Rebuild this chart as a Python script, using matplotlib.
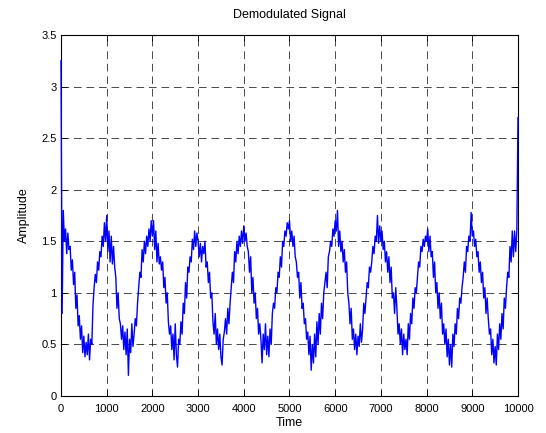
import numpy as np
import matplotlib
matplotlib.use('Agg')
import matplotlib.pyplot as plt

# demodulated signal, every 25 samples
step = 25
amplitude = [
    3.25, 0.8, 1.8, 1.5, 1.62, 1.38, 1.58, 1.42,
    1.45, 1.22, 1.32, 1.08, 1.2, 0.85, 0.98, 0.68,
    0.78, 0.55, 0.68, 0.42, 0.58, 0.38, 0.52, 0.4,
    0.6, 0.35, 0.55, 0.5, 0.88, 1.05, 1.18, 1.1,
    1.3, 1.22, 1.4, 1.35, 1.55, 1.45, 1.68, 1.5,
    1.75, 1.4, 1.6, 1.3, 1.55, 1.28, 1.45, 1.25,
    1.15, 0.85, 1.0, 0.75, 0.7, 0.55, 0.68, 0.45,
    0.62, 0.4, 0.65, 0.2, 0.55, 0.42, 0.7, 0.48,
    0.6, 0.75, 0.68, 0.9, 1.05, 1.2, 1.15, 1.42,
    1.3, 1.5, 1.38, 1.55, 1.45, 1.62, 1.5, 1.7,
    1.55, 1.7, 1.42, 1.6, 1.3, 1.48, 1.28, 1.35,
    1.22, 1.3, 1.05, 1.15, 0.9, 1.0, 0.72, 0.6,
    0.68, 0.45, 0.6, 0.35, 0.7, 0.4, 0.28, 0.55,
    0.5, 0.72, 0.6, 0.9, 0.8, 1.1, 0.95, 1.25,
    1.2, 1.35, 1.3, 1.52, 1.42, 1.6, 1.45, 1.58,
    1.5, 1.35, 1.48, 1.3, 1.45, 1.38, 1.5, 1.25,
    1.3, 1.1, 1.2, 0.95, 1.0, 0.72, 0.6, 0.8,
    0.5, 0.65, 0.45, 0.6, 0.38, 0.3, 0.55, 0.62,
    0.75, 0.6, 0.85, 0.7, 0.9, 1.05, 1.2, 1.1,
    1.4, 1.3, 1.5, 1.38, 1.55, 1.45, 1.6, 1.48,
    1.65, 1.5, 1.58, 1.45, 1.4, 1.2, 1.35, 1.0,
    1.15, 0.9, 1.0, 0.75, 0.85, 0.6, 0.7, 0.55,
    0.32, 0.6, 0.45, 0.7, 0.4, 0.58, 0.38, 0.65,
    0.5, 0.8, 0.9, 0.85, 1.05, 1.0, 1.2, 1.15,
    1.35, 1.25, 1.5, 1.45, 1.6, 1.55, 1.68, 1.62,
    1.7, 1.5, 1.6, 1.45, 1.55, 1.35, 1.3, 1.15,
    1.2, 0.95, 1.1, 0.85, 0.9, 0.7, 0.75, 0.55,
    0.62, 0.4, 0.58, 0.25, 0.5, 0.32, 0.6, 0.38,
    0.72, 0.5, 0.8, 0.6, 0.9, 0.75, 1.0, 1.1,
    1.2, 1.05, 1.35, 1.4, 1.5, 1.45, 1.62, 1.55,
    1.7, 1.6, 1.8, 1.45, 1.6, 1.4, 1.5, 1.3,
    1.42, 1.2, 1.3, 1.0, 0.9, 0.7, 0.85, 0.55,
    0.65, 0.45, 0.6, 0.4, 0.58, 0.48, 0.7, 0.52,
    0.65, 0.9, 0.8, 0.95, 1.1, 1.05, 1.25, 1.2,
    1.3, 1.45, 1.38, 1.55, 1.5, 1.75, 1.48, 1.65,
    1.5, 1.6, 1.42, 1.5, 1.3, 1.4, 1.2, 1.35,
    1.1, 1.25, 0.95, 1.0, 0.8, 1.05, 0.85, 0.6,
    0.7, 0.5, 0.65, 0.4, 0.6, 0.45, 0.55, 0.4,
    0.7, 0.55, 0.8, 0.7, 0.95, 0.85, 1.05, 1.0,
    1.15, 1.3, 1.25, 1.45, 1.4, 1.52, 1.45, 1.55,
    1.5, 1.62, 1.4, 1.55, 1.35, 1.4, 1.15, 1.3,
    1.0, 1.1, 0.85, 1.0, 0.75, 0.9, 0.6, 0.7,
    0.5, 0.65, 0.38, 0.55, 0.3, 0.5, 0.28, 0.6,
    0.48, 0.7, 0.6, 0.85, 0.75, 0.95, 0.9, 1.05,
    1.15, 1.3, 1.2, 1.45, 1.4, 1.55, 1.5, 1.78,
    1.55, 1.6, 1.45, 1.52, 1.35, 1.4, 1.2, 1.3,
    1.1, 1.2, 0.95, 1.05, 0.8, 0.95, 0.75, 0.6,
    0.65, 0.4, 0.55, 0.32, 0.48, 0.3, 0.6, 0.45,
    0.7, 0.55, 0.8, 0.65, 0.95, 0.85, 1.05, 1.2,
    1.15, 1.45, 1.3, 1.6, 1.35, 1.6, 1.4, 1.6,
    2.7,
]
time = np.arange(len(amplitude)) * step

x_ticks = [0, 1000, 2000, 3000, 4000, 5000, 6000, 7000, 8000, 9000, 10000]
y_ticks = [0, 0.5, 1, 1.5, 2, 2.5, 3, 3.5]

plt.rcParams['font.family'] = ['Liberation Sans', 'DejaVu Sans']
plt.rcParams['font.size'] = 8
plt.rcParams['lines.scale_dashes'] = False

fig = plt.figure(figsize=(5.46, 4.33), dpi=100)
ax = fig.add_axes([0.1117, 0.0855, 0.837, 0.8335])
ax.plot(time, amplitude, color='#0000ff', lw=1.0, zorder=3, clip_on=False)

ax.set_xlim(0, 10000)
ax.set_ylim(0, 3.5)
ax.set_xticks(x_ticks)
ax.set_yticks(y_ticks)
ax.set_xticklabels([str(v) for v in x_ticks])
ax.set_yticklabels(['0', '0.5', '1', '1.5', '2', '2.5', '3', '3.5'])
ax.tick_params(direction='in', length=4, width=0.6, top=True, right=True, colors='k')
ax.tick_params(axis='x', pad=6)
ax.tick_params(axis='y', pad=3)
ax.grid(True, color='k', lw=0.5, linestyle=(0, (5.5, 3.5)))
for s in ax.spines.values():
    s.set_linewidth(0.8)

ax.set_title('Demodulated Signal', fontsize=9, pad=12)
ax.set_xlabel('Time', fontsize=9, labelpad=2)
ax.set_ylabel('Amplitude', fontsize=9, labelpad=8)

fig.savefig('out.png', dpi=100)
